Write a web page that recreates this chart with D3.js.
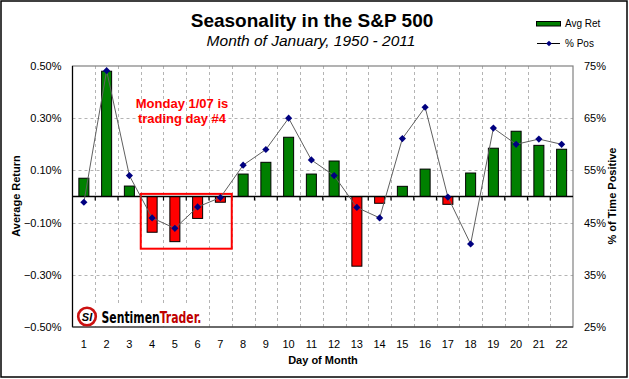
<!DOCTYPE html>
<html><head><meta charset="utf-8">
<script src="https://cdn.jsdelivr.net/npm/d3@7"></script>
<style>
html,body{margin:0;padding:0;background:#fff;}
svg text{font-family:"Liberation Sans",Arial,sans-serif;}
svg text.logo{font-family:"DejaVu Sans",sans-serif;font-weight:bold;font-stretch:condensed;}
</style></head>
<body><svg id="c" width="629" height="379"></svg>
<script>
const days = [1,2,3,4,5,6,7,8,9,10,11,12,13,14,15,16,17,18,19,20,21,22];
const avgRet = [0.07,0.48,0.04,-0.137,-0.173,-0.084,-0.022,0.086,0.131,0.227,0.086,0.136,-0.267,-0.026,0.039,0.105,-0.030,0.09,0.185,0.25,0.196,0.181];
const pctPos = [48.9,74.1,54.0,45.9,43.9,48.0,49.8,56.0,59.0,65.0,57.0,54.0,47.9,45.9,61.1,67.1,49.9,40.9,63.1,60.0,61.0,60.0];
const leftTicks = [0.5,0.3,0.1,-0.1,-0.3,-0.5];
const rightTicks = [75,65,55,45,35,25];
const gridVals = [0.3,0.1,-0.1,-0.3];
const titleText = "Seasonality in the S&P 500";
const subtitleText = "Month of January, 1950 - 2011";
const annotLines = ["Monday 1/07 is","trading day #4"];
const annotDays = [4,7];
const annotRange = [0.01,-0.2];

const svg = d3.select("#c");
const L=72.5, R=573, T=66, B=327;

const x = d3.scaleBand().domain(days).range([L,R]).paddingInner(0.56).paddingOuter(0.28);
const step = x.step();
const cellL = d => x(d) - step*0.28;
const yL = d3.scaleLinear().domain([-0.5,0.5]).range([B,T]);
const yR = d3.scaleLinear().domain([25,75]).range([B,T]);

// outer border
svg.append("rect").attr("x",1).attr("y",1).attr("width",626).attr("height",376)
  .attr("fill","#fff").attr("stroke","#000").attr("stroke-width",1.5);

// gridlines
const g = svg.append("g");
g.selectAll("line.h").data(gridVals).join("line")
  .attr("x1",L).attr("x2",R).attr("y1",d=>Math.round(yL(d))+0.5).attr("y2",d=>Math.round(yL(d))+0.5)
  .attr("stroke","#b4b4b4").attr("stroke-dasharray","3,3");
g.selectAll("line.v").data(days.slice(1)).join("line")
  .attr("x1",d=>Math.round(cellL(d))+0.5).attr("x2",d=>Math.round(cellL(d))+0.5).attr("y1",T).attr("y2",B)
  .attr("stroke","#b4b4b4").attr("stroke-dasharray","3,3");

// logo background
svg.append("rect").attr("x",74).attr("y",304).attr("width",132).attr("height",22).attr("fill","#fff");

// plot border
svg.append("rect").attr("x",L).attr("y",T).attr("width",R-L).attr("height",B-T)
  .attr("fill","none").attr("stroke","#808080").attr("stroke-width",1.2);
svg.append("line").attr("x1",L).attr("x2",L).attr("y1",T).attr("y2",B).attr("stroke","#000").attr("stroke-width",1.2);
svg.append("line").attr("x1",L).attr("x2",R).attr("y1",B).attr("y2",B).attr("stroke","#222").attr("stroke-width",1.2);

// bars
svg.append("g").selectAll("rect").data(days).join("rect")
  .attr("x",(d)=>x(d)).attr("width",x.bandwidth())
  .attr("y",(d,i)=>yL(Math.max(0,avgRet[i])))
  .attr("height",(d,i)=>Math.abs(yL(avgRet[i])-yL(0)))
  .attr("fill",(d,i)=>avgRet[i]>=0?"#008000":"#ff0000")
  .attr("stroke","#000").attr("stroke-width",1);

// zero axis with ticks
const y0 = yL(0);
svg.append("line").attr("x1",L).attr("x2",R).attr("y1",y0).attr("y2",y0).attr("stroke","#000").attr("stroke-width",1.5);
svg.append("g").selectAll("line").data(days.slice(1)).join("line")
  .attr("x1",d=>cellL(d)).attr("x2",d=>cellL(d)).attr("y1",y0).attr("y2",y0+4)
  .attr("stroke","#000").attr("stroke-width",1.2);

// annotation box
svg.append("rect").attr("x",cellL(annotDays[0])).attr("y",yL(annotRange[0]))
  .attr("width",cellL(annotDays[1])+step-cellL(annotDays[0])).attr("height",yL(annotRange[1])-yL(annotRange[0]))
  .attr("fill","none").attr("stroke","#ff0000").attr("stroke-width",2);

// line series
const line = d3.line().x((d,i)=>x(days[i])+x.bandwidth()/2).y(d=>yR(d));
svg.append("path").datum(pctPos).attr("d",line).attr("fill","none").attr("stroke","#606060").attr("stroke-width",1);
const sym = d3.symbol().type(d3.symbolSquare).size(26);
svg.append("g").selectAll("path").data(pctPos).join("path")
  .attr("d",sym)
  .attr("transform",(d,i)=>`translate(${x(days[i])+x.bandwidth()/2},${yR(d)}) rotate(45)`)
  .attr("fill","#000080");

// annotation text
svg.append("g").selectAll("text").data(annotLines).join("text")
  .attr("x",182).attr("y",(d,i)=>108+i*14.5).attr("text-anchor","middle")
  .attr("font-size",13).attr("font-weight","bold").attr("fill","#ff0000").text(d=>d);

// axes
const axL = svg.append("g").attr("transform",`translate(${L},0)`)
  .call(d3.axisLeft(yL).tickValues(leftTicks).tickSize(0).tickPadding(11).tickFormat(d=>d3.format(".2f")(d)+"%"));
axL.select(".domain").remove();
axL.selectAll("text").attr("font-size",11).attr("font-family","Liberation Sans, Arial").attr("fill","#000");
const axR = svg.append("g").attr("transform",`translate(${R},0)`)
  .call(d3.axisRight(yR).tickValues(rightTicks).tickSize(0).tickPadding(11).tickFormat(d=>d+"%"));
axR.select(".domain").remove();
axR.selectAll("text").attr("font-size",11).attr("font-family","Liberation Sans, Arial").attr("fill","#000");
const axB = svg.append("g").attr("transform",`translate(0,${B})`)
  .call(d3.axisBottom(x).tickSize(0).tickPadding(13));
axB.select(".domain").remove();
axB.selectAll("text").attr("font-size",11).attr("font-family","Liberation Sans, Arial").attr("fill","#000");

// axis titles
svg.append("text").attr("transform","translate(20,196) rotate(-90)").attr("text-anchor","middle")
  .attr("font-size",11).attr("font-weight","bold").text("Average Return");
svg.append("text").attr("transform","translate(616,196) rotate(-90)").attr("text-anchor","middle")
  .attr("font-size",11).attr("font-weight","bold").text("% of Time Positive");
svg.append("text").attr("x",323).attr("y",364).attr("text-anchor","middle")
  .attr("font-size",11).attr("font-weight","bold").text("Day of Month");

// titles
svg.append("text").attr("x",312).attr("y",27).attr("text-anchor","middle")
  .attr("font-size",19).attr("font-weight","bold").text(titleText);
svg.append("text").attr("x",311).attr("y",46).attr("text-anchor","middle")
  .attr("font-size",15.5).attr("font-style","italic").text(subtitleText);

// legend
const lg = svg.append("g");
lg.append("rect").attr("x",536.5).attr("y",21.5).attr("width",24).attr("height",4.5).attr("fill","#008000").attr("stroke","#000").attr("stroke-width",1);
lg.append("text").attr("x",565).attr("y",27).attr("font-size",10).text("Avg Ret");
lg.append("line").attr("x1",537).attr("x2",560).attr("y1",43.5).attr("y2",43.5).attr("stroke","#000").attr("stroke-width",1);
lg.append("path").attr("d",d3.symbol().type(d3.symbolSquare).size(16)).attr("transform","translate(549,43.5) rotate(45)").attr("fill","#000080");
lg.append("text").attr("x",565).attr("y",47).attr("font-size",10).text("% Pos");

// logo
const logo = svg.append("g");
logo.append("circle").attr("cx",87).attr("cy",316.5).attr("r",8.8).attr("fill","#fff").attr("stroke","#cc1111").attr("stroke-width",2.6);
logo.append("text").attr("x",87).attr("y",320.5).attr("text-anchor","middle").attr("font-size",11).attr("font-weight","bold").attr("font-style","italic").text("SI");
const lt = logo.append("text").attr("class","logo").attr("x",0).attr("y",0).attr("font-size",15);
lt.append("tspan").attr("fill","#000").text("Sentimen");
lt.append("tspan").attr("fill","#c00000").text("Trader.");
const natural = lt.node().getComputedTextLength() || 100;
lt.attr("transform",`translate(101.5,323) scale(${100/natural},1)`);
</script></body></html>
